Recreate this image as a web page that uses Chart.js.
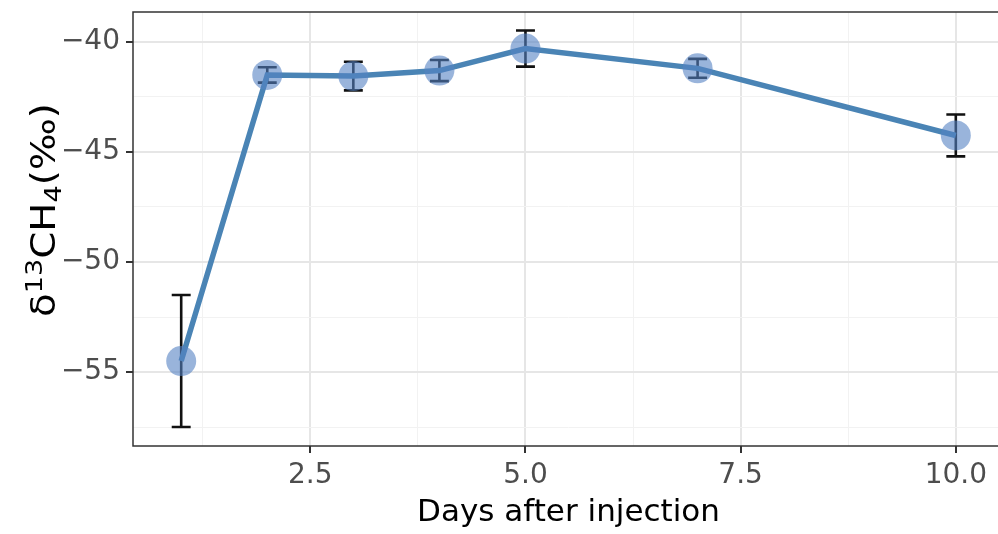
<!DOCTYPE html>
<html>
<head>
<meta charset="utf-8">
<title>d13CH4 after injection</title>
<script src="https://cdn.jsdelivr.net/npm/chart.js@4.4.1/dist/chart.umd.min.js"></script>
<style>
  html, body { margin: 0; padding: 0; background: #fff; }
  #wrap { width: 998px; height: 534px; overflow: hidden; }
  canvas { display: block; }
</style>
</head>
<body>
<div id="wrap"><canvas id="chart" width="1010" height="534"></canvas></div>
<script>
/* =============================================================================
   d13CH4 vs. days after injection — ggplot(theme_bw)-style line + error bars
   ========================================================================== */
var DAYS = [1, 2, 3, 4, 5, 7, 10];
var D13C_MEAN = [-54.5, -41.5, -41.55, -41.3, -40.3, -41.2, -44.25];
var D13C_SD = [3.0, 0.35, 0.65, 0.48, 0.82, 0.43, 0.95];

var X_MAJOR = [2.5, 5, 7.5, 10];
var X_LABELS = ["2.5", "5.0", "7.5", "10.0"];
var X_MINOR = [1.25, 3.75, 6.25, 8.75];
var Y_MAJOR = [-55, -50, -45, -40];
var Y_LABELS = ["\u221255", "\u221250", "\u221245", "\u221240"];
var Y_MINOR = [-57.5, -52.5, -47.5, -42.5];

var X_RANGE = [0.44, 10.56];
var Y_RANGE = [-58.36, -38.64];

(function () {
  "use strict";

  var FONT = "'DejaVu Sans', 'Liberation Sans', sans-serif";
  var LINE_COL = "#4a84b5", POINT_COL = "rgba(85,130,195,0.6)";
  var GRID_MAJOR = "#e6e6e6", GRID_MINOR = "#f2f2f2", AXIS = "#333333";

  function isMajor(list, v) {
    return list.some(function (m) { return Math.abs(m - v) < 1e-6; });
  }

  function setTicks(major, minor) {
    return function (scale) {
      scale.ticks = major.concat(minor).sort(function (a, b) { return a - b; })
        .map(function (v) { return { value: v }; });
    };
  }

  function labelFor(major, labels) {
    return function (v) {
      for (var i = 0; i < major.length; i++) if (Math.abs(major[i] - v) < 1e-6) return labels[i];
      return "";
    };
  }

  // fixed axis box, no extra padding for overhanging labels
  function fixBox(prop, size) {
    return function (s) {
      s[prop] = size;
      s.paddingTop = s.paddingBottom = s.paddingLeft = s.paddingRight = 0;
    };
  }

  function gridOpts(major) {
    return {
      color: function (c) { return isMajor(major, c.tick.value) ? GRID_MAJOR : GRID_MINOR; },
      lineWidth: function (c) { return isMajor(major, c.tick.value) ? 2 : 1; },
      tickColor: function (c) { return isMajor(major, c.tick.value) ? AXIS : "rgba(0,0,0,0)"; },
      tickWidth: 2,
      tickLength: 7,
      drawTicks: true
    };
  }

  /* error bars, drawn under the line and points */
  var errorBars = {
    id: "errorBars",
    beforeDatasetsDraw: function (chart) {
      var x = chart.scales.x, y = chart.scales.y, ctx = chart.ctx;
      ctx.save();
      ctx.strokeStyle = "#111";
      ctx.lineWidth = 2.6;
      DAYS.forEach(function (d, i) {
        var px = x.getPixelForValue(d);
        var hw = x.getPixelForValue(d + 0.11) - px;
        var top = y.getPixelForValue(D13C_MEAN[i] + D13C_SD[i]);
        var bot = y.getPixelForValue(D13C_MEAN[i] - D13C_SD[i]);
        ctx.beginPath();
        ctx.moveTo(px, top); ctx.lineTo(px, bot);
        ctx.moveTo(px - hw, top); ctx.lineTo(px + hw, top);
        ctx.moveTo(px - hw, bot); ctx.lineTo(px + hw, bot);
        ctx.stroke();
      });
      ctx.restore();
    }
  };

  /* panel border + rotated y title with super/subscripts */
  var panel = {
    id: "panel",
    afterDraw: function (chart) {
      var a = chart.chartArea, ctx = chart.ctx;
      ctx.save();
      ctx.strokeStyle = AXIS;
      ctx.lineWidth = 1.5;
      ctx.strokeRect(a.left, a.top, a.right - a.left, a.bottom - a.top);
      ctx.restore();

      var parts = [
        { t: "\u03b4", s: 33, dy: 0 },
        { t: "13", s: 23, dy: -13 },
        { t: "CH", s: 33, dy: 0 },
        { t: "4", s: 23, dy: 6 },
        { t: "(\u2030)", s: 33, dy: 0 }
      ];
      ctx.save();
      ctx.fillStyle = "#000";
      ctx.textBaseline = "alphabetic";
      var total = 0;
      parts.forEach(function (p) { ctx.font = p.s + "px " + FONT; p.w = ctx.measureText(p.t).width; total += p.w; });
      ctx.translate(55, 210);
      ctx.rotate(-Math.PI / 2);
      ctx.scale(214 / total, 1);
      var cx = -total / 2;
      parts.forEach(function (p) {
        ctx.font = p.s + "px " + FONT;
        ctx.fillText(p.t, cx, p.dy);
        cx += p.w;
      });
      ctx.restore();
    }
  };

  new Chart(document.getElementById("chart"), {
    type: "scatter",
    data: {
      datasets: [{
        label: "mean line",
        data: DAYS.map(function (d, i) { return { x: d, y: D13C_MEAN[i] }; }),
        showLine: true,
        borderColor: LINE_COL,
        borderWidth: 5.5,
        pointRadius: 0,
        order: 2
      }, {
        label: "means",
        data: DAYS.map(function (d, i) { return { x: d, y: D13C_MEAN[i] }; }),
        backgroundColor: POINT_COL,
        borderWidth: 0,
        pointRadius: 15,
        order: 1
      }]
    },
    options: {
      responsive: false,
      animation: false,
      devicePixelRatio: 1,
      layout: { autoPadding: false, padding: { top: 12, right: 6, left: 0, bottom: 0 } },
      plugins: { legend: { display: false }, tooltip: { enabled: false } },
      scales: {
        x: {
          type: "linear",
          min: X_RANGE[0], max: X_RANGE[1],
          afterBuildTicks: setTicks(X_MAJOR, X_MINOR),
          afterFit: fixBox("height", 88),
          grid: gridOpts(X_MAJOR),
          border: { display: false },
          ticks: {
            callback: labelFor(X_MAJOR, X_LABELS),
            autoSkip: false, maxRotation: 0, padding: 6,
            color: "#4d4d4d", font: { family: FONT, size: 28 }
          },
          title: {
            display: true, text: "Days after injection", color: "#000",
            font: { family: FONT, size: 31 }, padding: { top: 0, bottom: 2 }
          }
        },
        y: {
          type: "linear",
          min: Y_RANGE[0], max: Y_RANGE[1],
          afterBuildTicks: setTicks(Y_MAJOR, Y_MINOR),
          afterFit: fixBox("width", 133),
          grid: gridOpts(Y_MAJOR),
          border: { display: false },
          ticks: {
            callback: labelFor(Y_MAJOR, Y_LABELS),
            autoSkip: false, padding: 6,
            color: "#4d4d4d", font: { family: FONT, size: 28 }
          }
        }
      }
    },
    plugins: [errorBars, panel]
  });
})();
</script>
</body>
</html>
